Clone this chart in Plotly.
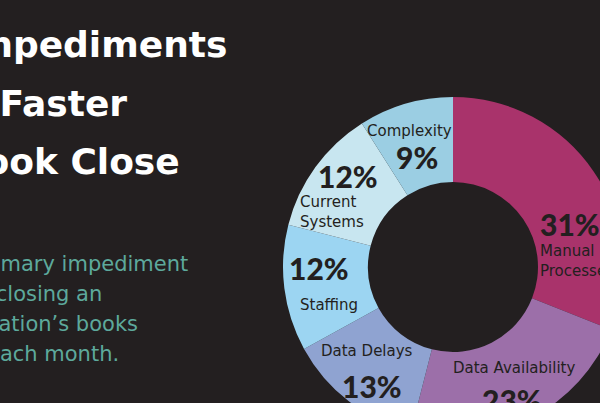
import math
import plotly.graph_objects as go

# ---------------- data ----------------
categories = ["Manual Processes", "Data Availability", "Data Delays",
              "Staffing", "Current Systems", "Complexity"]
name_lines = ["Manual<br>Processes", "Data Availability", "Data Delays",
              "Staffing", "Current<br>Systems", "Complexity"]
values = [31, 23, 13, 12, 12, 9]
colors = ["#A9336B", "#9C6FA9", "#8FA3D1", "#9CD5F2", "#C8E6F0", "#9BCEE3"]

title_lines = ["Impediments", "to Faster", "Book Close"]
subtitle_lines = ["The primary impediment", "to closing an",
                  "organization\u2019s books", "each month."]

# ---------------- layout constants ----------------
W, H = 640, 450
BG = "#231F20"
DARK = "#231F20"
HOLE = 0.5
dom_x = [283 / W, 623 / W]
dom_y = [1 - 437 / H, 1 - 97 / H]

fig = go.Figure()
fig.add_trace(go.Pie(
    labels=categories, values=values, hole=HOLE, sort=False,
    direction="clockwise", rotation=0,
    marker=dict(colors=colors, line=dict(width=0)),
    textinfo="none", hoverinfo="label+percent", showlegend=False,
    domain=dict(x=dom_x, y=dom_y),
))

# label placement: per-slice pixel nudges from the slice centroid
# (pct_dx, pct_dy, pct_anchor, name_dx, name_dy, name_anchor, name_align)
nudges = {
    "Manual Processes": (-20, 29, "left", -20, 66, "left", "left"),
    "Data Availability": (1, 19, "center", 3, -13, "center", "center"),
    "Data Delays": (-3, 18, "center", -8, -17, "center", "center"),
    "Staffing": (-8, -15, "center", 2, 22, "center", "center"),
    "Current Systems": (-2, -16, "center", -52, 20, "left", "left"),
    "Complexity": (0, 12, "center", -8, -14, "center", "center"),
}

cx = (dom_x[0] + dom_x[1]) / 2 * W
cy = H * (1 - (dom_y[0] + dom_y[1]) / 2)
R = min((dom_x[1] - dom_x[0]) * W, (dom_y[1] - dom_y[0]) * H) / 2
r_lab = R * (1 + HOLE) / 2
total = sum(values)
cum = 0
annotations = []
for cat, nm, v in zip(categories, name_lines, values):
    th = 2 * math.pi * (cum + v / 2) / total
    cum += v
    px = cx + r_lab * math.sin(th)
    py = cy - r_lab * math.cos(th)
    pdx, pdy, pan, ndx, ndy, nan, nal = nudges[cat]
    annotations.append(dict(
        x=px / W, y=1 - py / H, xref="paper", yref="paper",
        text=f"{round(100 * v / total)}%", showarrow=False,
        xanchor=pan, yanchor="middle", xshift=pdx, yshift=-pdy,
        font=dict(family="Lato", size=30, color=DARK, weight=900),
    ))
    annotations.append(dict(
        x=px / W, y=1 - py / H, xref="paper", yref="paper",
        text=nm, showarrow=False, align=nal,
        xanchor=nan, yanchor="middle", xshift=ndx, yshift=-ndy,
        font=dict(family="DejaVu Sans", size=15, color=DARK),
    ))

# title lines (right edges / vertical centres in px)
title_pos = [(229, 45), (129, 103), (182, 161)]
for t, (rx, yc) in zip(title_lines, title_pos):
    annotations.append(dict(
        x=rx / W, y=1 - yc / H, xref="paper", yref="paper", text=t,
        showarrow=False, xanchor="right", yanchor="middle",
        font=dict(family="DejaVu Sans", size=36, color="#FFFFFF", weight="bold"),
    ))

sub_pos = [(190, 264), (104, 294), (140, 324), (121, 354)]
for t, (rx, yc) in zip(subtitle_lines, sub_pos):
    annotations.append(dict(
        x=rx / W, y=1 - yc / H, xref="paper", yref="paper", text=t,
        showarrow=False, xanchor="right", yanchor="middle",
        font=dict(family="DejaVu Sans", size=21, color="#5DA99C"),
    ))

fig.update_layout(
    width=W, height=H, margin=dict(l=0, r=0, t=0, b=0),
    paper_bgcolor=BG, plot_bgcolor=BG,
    annotations=annotations,
)

fig.write_html(
    "out.html",
    post_script="document.body.style.margin='0';"
                "document.body.style.overflow='hidden';"
                "document.documentElement.style.overflow='hidden';"
                "document.body.style.background='" + BG + "';",
)
